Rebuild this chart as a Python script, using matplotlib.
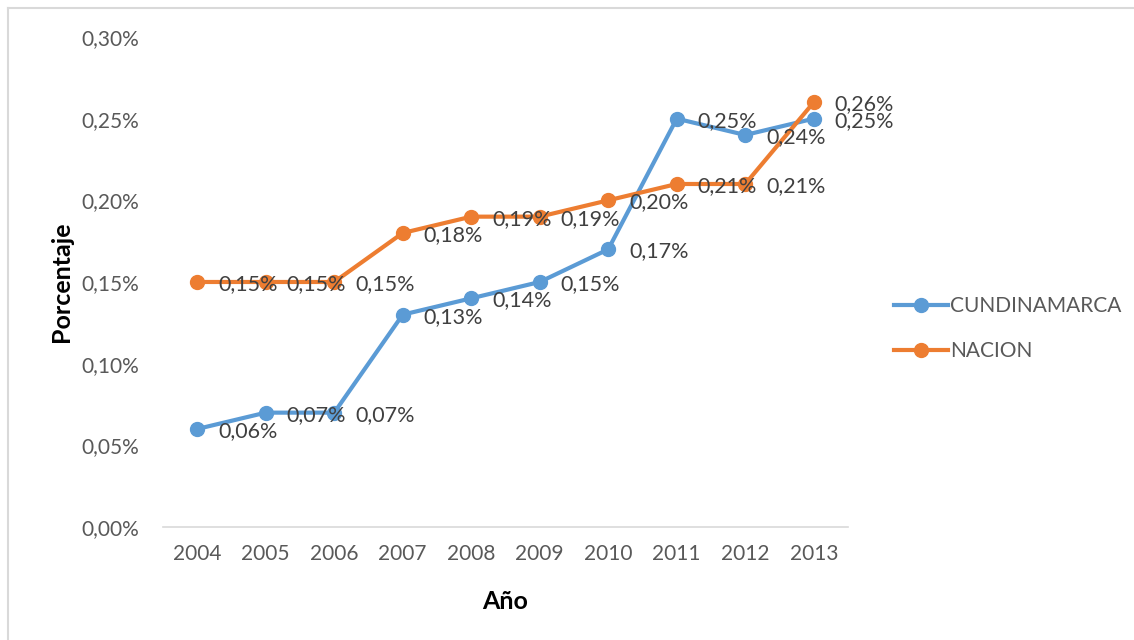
import matplotlib.pyplot as plt
from matplotlib.lines import Line2D

years = ['2004', '2005', '2006', '2007', '2008', '2009', '2010', '2011', '2012', '2013']
cundinamarca = [0.06, 0.07, 0.07, 0.13, 0.14, 0.15, 0.17, 0.25, 0.24, 0.25]
nacion = [0.15, 0.15, 0.15, 0.18, 0.19, 0.19, 0.20, 0.21, 0.21, 0.26]
yticks = [0.00, 0.05, 0.10, 0.15, 0.20, 0.25, 0.30]

plt.rcParams['font.family'] = ['Lato', 'DejaVu Sans']
gray = '#595959'

fig = plt.figure(figsize=(11.34, 6.40), dpi=100)
ax = fig.add_axes([0.1437, 0.1766, 0.7478 - 0.1437, 0.9422 - 0.1766])

x = list(range(len(years)))
series = [('CUNDINAMARCA', cundinamarca, '#5B9BD5'), ('NACION', nacion, '#ED7D31')]
for name, vals, col in series:
    ax.plot(x, vals, color=col, lw=3, marker='o', ms=10, label=name, zorder=3)

# data labels to the right of every point
for name, vals, col in series:
    for xi, v in zip(x, vals):
        ax.annotate(f'{v:.2f}%'.replace('.', ','), (xi, v), xytext=(15, -1.5),
                    textcoords='offset points', ha='left', va='center',
                    fontsize=15.5, color='#404040', zorder=4)

ax.set_xlim(-0.5, len(years) - 0.5)
ax.set_ylim(0, 0.30)
ax.set_xticks(x)
ax.set_xticklabels(years)
ax.set_yticks(yticks)
ax.set_yticklabels([f'{t:.2f}%'.replace('.', ',') for t in yticks])
ax.tick_params(length=0, labelsize=15, labelcolor=gray)
ax.tick_params(axis='y', pad=17)
ax.tick_params(axis='x', pad=12)
for s in ['top', 'right', 'left']:
    ax.spines[s].set_visible(False)
ax.spines['bottom'].set_color('#D9D9D9')
ax.spines['bottom'].set_linewidth(1.2)

ax.set_xlabel('Año', fontsize=18, fontweight='bold', color='black')
ax.set_ylabel('Porcentaje', fontsize=18, fontweight='bold', color='black')
ax.xaxis.set_label_coords(0.5, -0.129)
ax.yaxis.set_label_coords(-0.131, 0.5)

handles = [Line2D([], [], color=c, lw=3, marker='o', ms=10) for _, _, c in series]
fig.legend(handles, [n for n, _, _ in series], loc='center left',
           bbox_to_anchor=(0.772, 0.487), frameon=False, fontsize=15,
           labelcolor=gray, handlelength=2.6, handletextpad=0.1, labelspacing=1.2)

# chart area border (only top and left visible in the reference)
fig.add_artist(Line2D([8 / 1134, 8 / 1134], [1 - 8 / 640, 0], color='#D9D9D9', lw=1.5,
                      transform=fig.transFigure))
fig.add_artist(Line2D([8 / 1134, 1], [1 - 8 / 640, 1 - 8 / 640], color='#D9D9D9', lw=1.5,
                      transform=fig.transFigure))

fig.savefig('out.png', dpi=100)
